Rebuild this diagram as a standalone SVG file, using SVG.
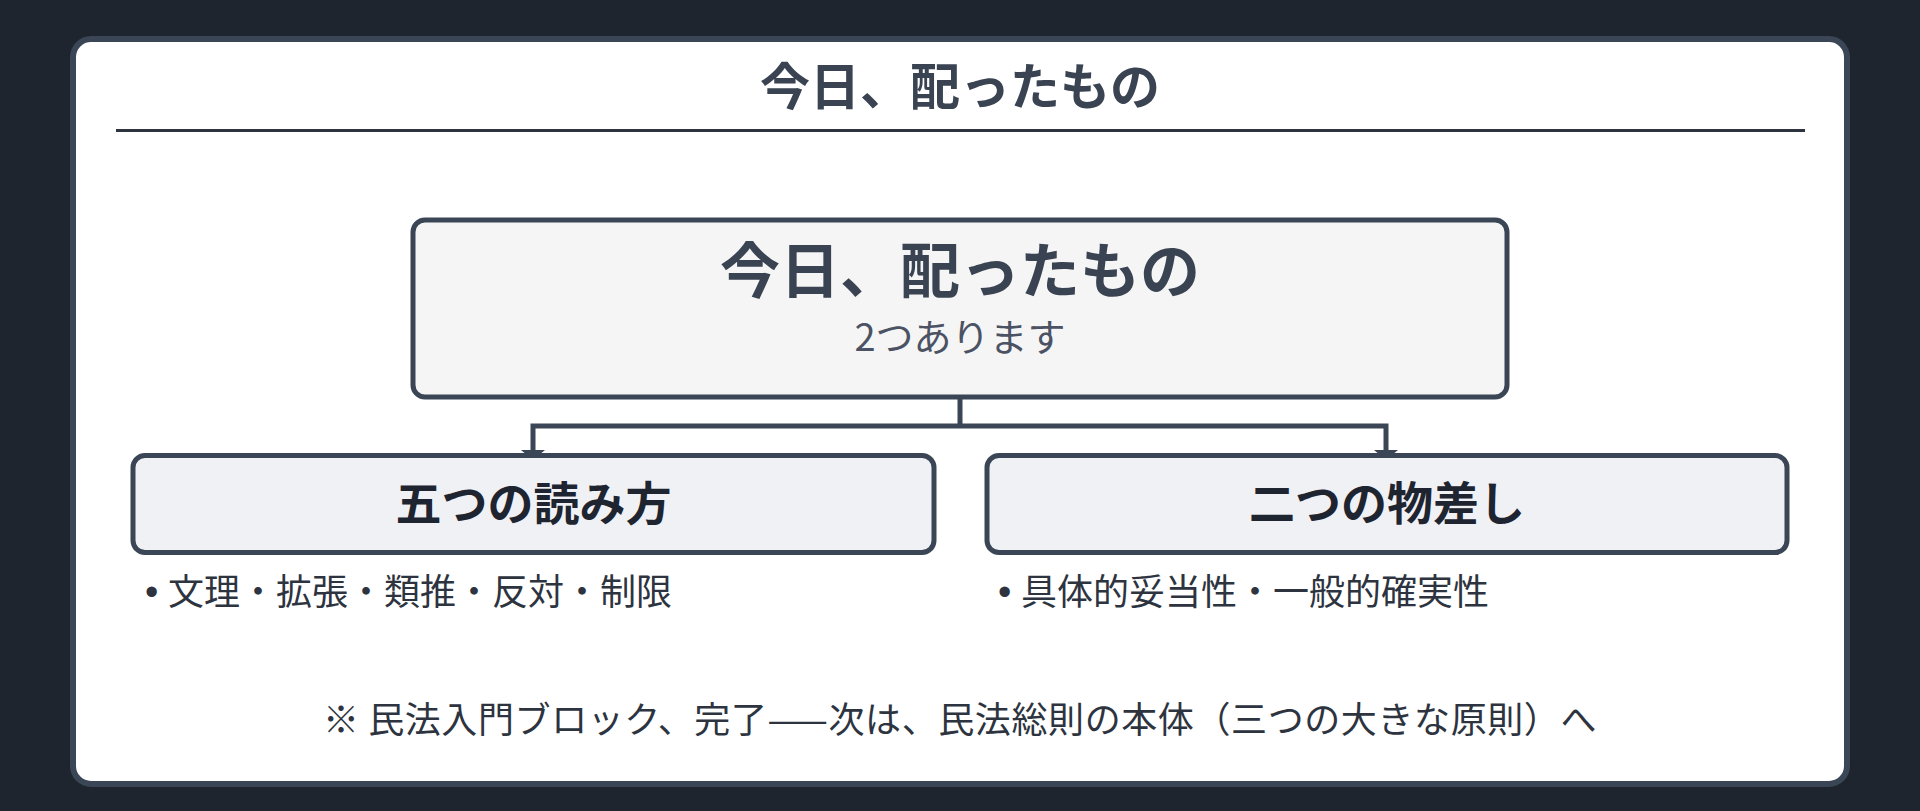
<svg xmlns="http://www.w3.org/2000/svg" width="1920" height="811" viewBox="0 0 1920 811">
  <defs>
    <marker id="arrow" markerUnits="userSpaceOnUse" viewBox="0 0 10 24" refX="10" refY="12" markerWidth="10" markerHeight="24" orient="auto">
      <path d="M0,0 L10,12 L0,24 z" fill="#3a4556"/>
    </marker>
    <style>
      .jp { font-family: "Noto Sans CJK JP", "Noto Sans CJK SC", sans-serif; }
      .title { font-size: 50px; font-weight: 700; fill: #3a4352; }
      .main { font-size: 60px; font-weight: 700; fill: #3a4352; }
      .sub { font-size: 38px; font-weight: 400; fill: #4a5263; }
      .head { font-size: 46px; font-weight: 700; fill: #1f2530; }
      .item { font-size: 36px; font-weight: 400; fill: #2d3440; }
      .bullet { font-family: "Liberation Sans", sans-serif; font-size: 38px; }
      .foot { font-size: 36px; font-weight: 400; fill: #2d3440; letter-spacing: 0.6px; }
      .box { stroke: #3a4556; stroke-width: 5; }
      .conn { fill: none; stroke: #3a4556; stroke-width: 5; }
    </style>
  </defs>
  <rect x="0" y="0" width="1920" height="811" fill="#1e252f"/>
  <g id="card">
    <rect x="73" y="39" width="1774" height="745" rx="18" ry="18" fill="#ffffff" stroke="#3a4556" stroke-width="6"/>
    <text class="jp title" x="960" y="105" text-anchor="middle">今日、配ったもの</text>
    <line x1="116" y1="130.5" x2="1805" y2="130.5" stroke="#2d3440" stroke-width="3"/>
  </g>
  <g id="connectors">
    <path class="conn" d="M960,399 V426"/>
    <path class="conn" d="M960,426 H533 V460" marker-end="url(#arrow)"/>
    <path class="conn" d="M960,426 H1386 V460" marker-end="url(#arrow)"/>
  </g>
  <g id="root">
    <rect class="box" x="413" y="220" width="1094" height="177" rx="12" ry="12" fill="#f5f5f5"/>
    <text class="jp main" x="960" y="293" text-anchor="middle">今日、配ったもの</text>
    <text class="jp sub" x="960" y="351" text-anchor="middle">2つあります</text>
  </g>
  <g id="node-yomikata">
    <rect class="box" x="133" y="455.5" width="801" height="97" rx="12" ry="12" fill="#f0f1f5"/>
    <text class="jp head" x="533.5" y="520" text-anchor="middle">五つの読み方</text>
    <text class="jp item" y="605"><tspan class="bullet" x="145">•</tspan><tspan x="168">文理・拡張・類推・反対・制限</tspan></text>
  </g>
  <g id="node-monosashi">
    <rect class="box" x="987" y="455.5" width="800" height="97" rx="12" ry="12" fill="#f0f1f5"/>
    <text class="jp head" x="1387" y="520" text-anchor="middle">二つの物差し</text>
    <text class="jp item" y="605"><tspan class="bullet" x="998">•</tspan><tspan x="1021">具体的妥当性・一般的確実性</tspan></text>
  </g>
  <g id="footer">
    <text class="jp foot" x="960" y="733" text-anchor="middle">※ 民法入門ブロック、完了——次は、民法総則の本体（三つの大きな原則）へ</text>
  </g>
</svg>
